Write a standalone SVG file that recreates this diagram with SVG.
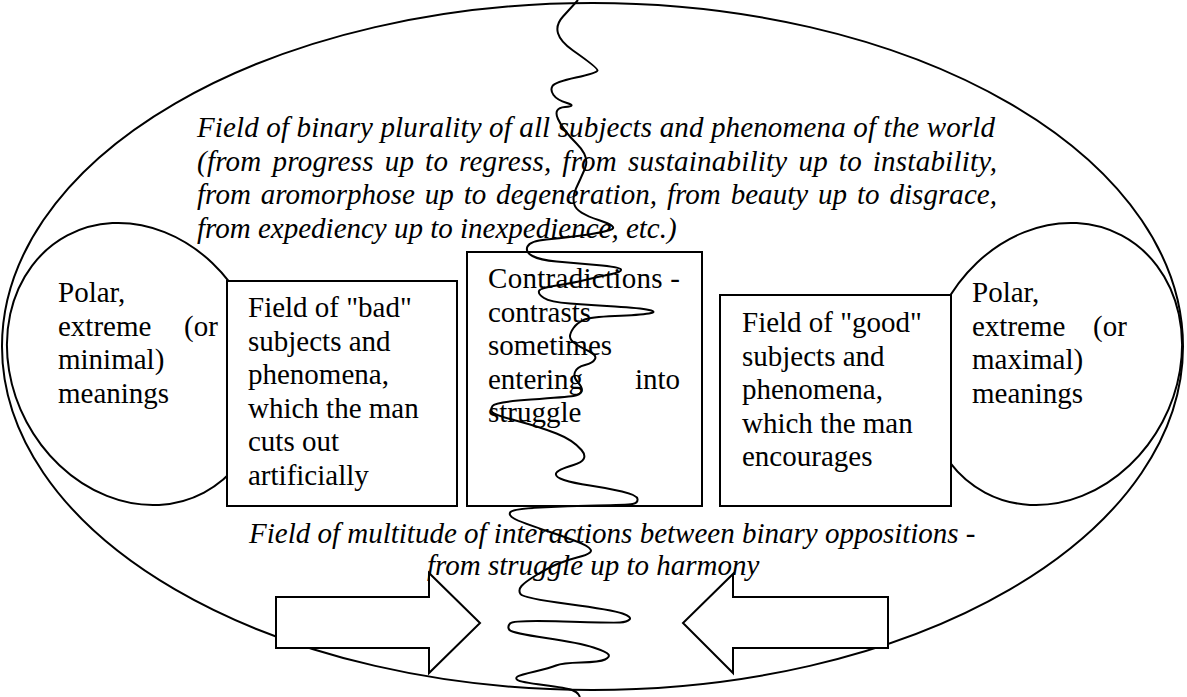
<svg xmlns="http://www.w3.org/2000/svg" width="1187" height="697" viewBox="0 0 1187 697">
<style>
  .ln { fill: none; stroke: #000; stroke-width: 2; }
  .box { fill: #fff; stroke: #000; stroke-width: 2; }
  .t { font-family: "Liberation Serif", "Times New Roman", Tinos, serif; font-size: 29px; fill: #000; }
  .it { font-family: "Liberation Serif", "Times New Roman", Tinos, serif; font-size: 29px; font-style: italic; fill: #000; }
</style>
<rect width="1187" height="697" fill="#fff"/>
<g id="outer-field">
  <ellipse class="ln" cx="592.5" cy="346.5" rx="590.5" ry="343.5"/>
  <text class="it" x="197" y="137" textLength="798" lengthAdjust="spacing">Field of binary plurality of all subjects and phenomena of the world</text>
  <text class="it" x="197" y="170.5" word-spacing="3.5" textLength="800" lengthAdjust="spacing">(from progress up to regress, from sustainability up to instability,</text>
  <text class="it" x="197" y="204" word-spacing="2.5" textLength="800" lengthAdjust="spacing">from aromorphose up to degeneration, from beauty up to disgrace,</text>
  <text class="it" x="197" y="237.5">from expediency up to inexpedience, etc.)</text>
  <text class="it" x="249" y="543">Field of multitude of interactions between binary oppositions -</text>
  <text class="it" x="427" y="575">from struggle up to harmony</text>
</g>
<g id="left-pole">
  <ellipse class="ln" cx="135.7" cy="364" rx="145.6" ry="123.6" transform="rotate(62 135.7 364)"/>
  <text class="t" x="58" y="302">Polar,</text>
  <text class="t" x="58" y="335.5">extreme</text>
  <text class="t" x="184" y="335.5">(or</text>
  <text class="t" x="58" y="369">minimal)</text>
  <text class="t" x="58" y="402.5">meanings</text>
</g>
<g id="right-pole">
  <ellipse class="ln" cx="1053.3" cy="364" rx="145.6" ry="123.6" transform="rotate(-62 1053.3 364)"/>
  <text class="t" x="972" y="302">Polar,</text>
  <text class="t" x="972" y="335.5">extreme</text>
  <text class="t" x="1093" y="335.5">(or</text>
  <text class="t" x="972" y="369">maximal)</text>
  <text class="t" x="972" y="402.5">meanings</text>
</g>
<g id="bad-field">
  <rect class="box" x="227" y="281" width="230" height="225"/>
  <text class="t" x="248" y="317">Field of "bad"</text>
  <text class="t" x="248" y="350.5">subjects and</text>
  <text class="t" x="248" y="384">phenomena,</text>
  <text class="t" x="248" y="417.5">which the man</text>
  <text class="t" x="248" y="451">cuts out</text>
  <text class="t" x="248" y="484.5">artificially</text>
</g>
<g id="contradictions">
  <rect class="box" x="467" y="252" width="235" height="254"/>
  <text class="t" x="488" y="288" textLength="192" lengthAdjust="spacing">Contradictions -</text>
  <text class="t" x="488" y="321.5">contrasts</text>
  <text class="t" x="488" y="355">sometimes</text>
  <text class="t" x="488" y="388.5">entering</text>
  <text class="t" x="635" y="388.5">into</text>
  <text class="t" x="488" y="422">struggle</text>
</g>
<g id="good-field">
  <rect class="box" x="720" y="295" width="231" height="211"/>
  <text class="t" x="742" y="332">Field of "good"</text>
  <text class="t" x="742" y="365.5">subjects and</text>
  <text class="t" x="742" y="399">phenomena,</text>
  <text class="t" x="742" y="432.5">which the man</text>
  <text class="t" x="742" y="466">encourages</text>
</g>
<g id="arrow-left">
  <polygon class="box" points="276,597 429,597 429,573 480,623 429,673 429,648 276,648"/>
</g>
<g id="arrow-right">
  <polygon class="box" points="888,597 733,597 733,574 683,623 733,673 733,648 888,648"/>
</g>
<g id="connectors">
  <path class="ln" d="M578,0 L563,16.5 Q548,33 573,50.5 Q598,68 597.5,70.5 Q597,73 576,77.5 Q555,82 552.5,86 Q550,90 553.5,95 Q557,100 567,103 Q577,106 565,107 Q553,108 558,119 Q563,130 576.5,143.5 Q590,157 585,168.5 Q580,180 576,188.5 Q572,197 574.5,205 Q577,213 598.5,220 Q620,227 610,230 Q600,233 581.5,235.5 Q563,238 546.5,239.5 Q530,241 527.5,246.5 Q525,252 532.5,256 Q540,260 556.5,261.5 Q573,263 596.5,265 Q620,267 621,269.5 Q622,272 609.5,274.5 Q597,277 585,280 Q573,283 556.5,285.5 Q540,288 539,291 Q538,294 544,298 Q550,302 570,303.5 Q590,305 615,306.5 Q640,308 649,310 Q658,312 649,313.5 Q640,315 615,316 Q590,317 583.5,320 Q577,323 573.5,328 Q570,333 570,336.5 Q570,340 575,343.5 Q580,347 588.5,351 Q597,355 595,359 Q593,363 585,365 Q577,367 575,372 Q573,377 578,382.5 Q583,388 581.5,391.5 Q580,395 573.5,396 Q567,397 531,399.5 Q495,402 492.5,406 Q490,410 492.5,412.5 Q495,415 517.5,421 Q540,427 556.5,433.5 Q573,440 581.5,450 Q590,460 573.5,465 Q557,470 556,473.5 Q555,477 564,480 Q573,483 590,485.5 Q607,488 622,491.5 Q637,495 637.5,499 Q638,503 632.5,504 Q627,505 597,505.5 Q567,506 540,507.5 Q513,509 510.5,512 Q508,515 514,518.5 Q520,522 550,532 Q580,542 586.5,546 Q593,550 590,552.5 Q587,555 577,557.5 Q567,560 557.5,564 Q548,568 536.5,575 Q525,582 521.5,586 Q518,590 520.5,594 Q523,598 568,604 Q613,610 622.5,613.5 Q632,617 629.5,619.5 Q627,622 620,622.5 Q613,623 563,621.5 Q513,620 510,623.5 Q507,627 509.5,630 Q512,633 546,638 Q580,643 593.5,647.5 Q607,652 608.5,654.5 Q610,657 605,659.5 Q600,662 581,662.5 Q562,663 556,665.5 Q550,668 535,671.5 Q520,675 517.5,676.5 Q515,678 517.5,680 Q520,682 543.5,685 Q567,688 572,690 Q577,692 578.5,694.5 Q580,697 580,697"/>
</g>
</svg>
